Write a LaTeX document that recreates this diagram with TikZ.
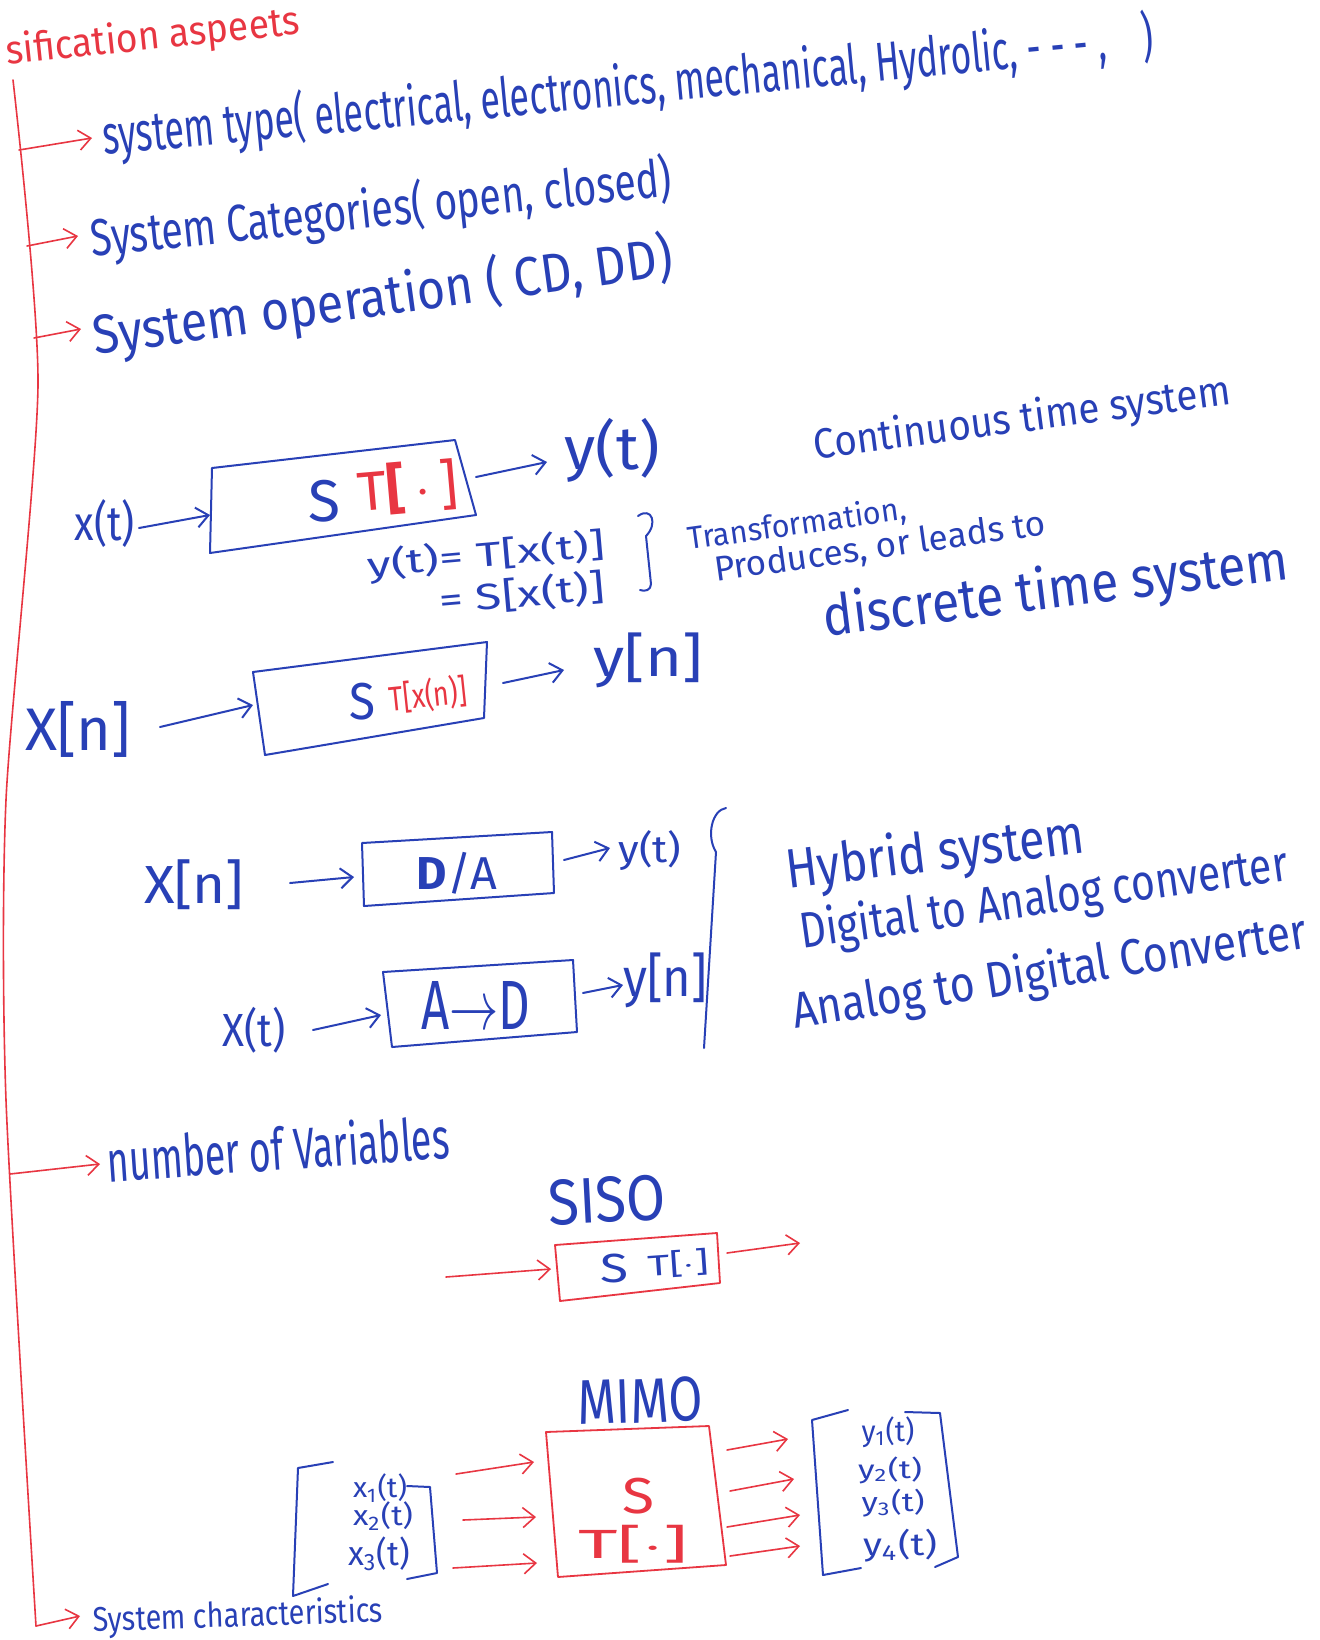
\documentclass[tikz,border=0pt]{standalone}
\usepackage{fontspec}
\setmainfont{Fira Sans}
\usetikzlibrary{arrows.meta}
\definecolor{inkblue}{RGB}{40,64,182}
\definecolor{inkred}{RGB}{232,54,66}
\newdimen\pxu \pxu=0.5pt
% set a text to a given width and total height (in picture units)
\newcommand{\fitwh}[3]{\resizebox*{#1\pxu}{#2\pxu}{#3}}
\begin{document}
\begin{tikzpicture}[x=0.5pt,y=-0.5pt,
  note/.style={inner sep=0pt, outer sep=0pt},
  bluetxt/.style={note, text=inkblue},
  redtxt/.style={note, text=inkred},
  barrow/.style={draw=inkblue, line width=1pt, line cap=round,
    -{Straight Barb[length=6pt,width=10pt,line width=1pt]}},
  rarrow/.style={draw=inkred, line width=0.8pt, line cap=round,
    -{Straight Barb[length=6pt,width=10pt,line width=0.8pt]}},
  bluebox/.style={draw=inkblue, line width=1pt, line join=round},
  redbox/.style={draw=inkred, line width=0.9pt, line join=round},
  bluepen/.style={draw=inkblue, line width=1pt, line cap=round, line join=round},
  redpen/.style={draw=inkred, line width=0.8pt, line cap=round, line join=round}]

\fill[white] (0,0) rectangle (1320,1640);
\useasboundingbox (0,0) rectangle (1320,1640);

% ---------- heading and main trunk ----------
\node[redtxt, rotate=6] (title) at (153,38) {\fitwh{295}{40}{sification aspeets}};

\draw[redpen] plot[smooth, tension=0.4] coordinates
  {(13,80) (38,385) (6,800) (6,1100) (36,1626)};

\coordinate (t1) at (19,150);  \coordinate (h1) at (92,138);
\coordinate (t2) at (27,246);  \coordinate (h2) at (78,236);
\coordinate (t3) at (34,338);  \coordinate (h3) at (81,329);
\coordinate (t4) at (10,1174); \coordinate (h4) at (100,1164);
\coordinate (t5) at (36,1626); \coordinate (h5) at (80,1616);
\draw[rarrow] (t1) -- (h1);
\draw[rarrow] (t2) -- (h2);
\draw[rarrow] (t3) -- (h3);
\draw[rarrow] (t4) -- (h4);
\draw[rarrow] (t5) -- (h5);

\node[bluetxt, rotate=5.4] (systype) at (628,88)
  {\fitwh{1055}{58}{system type( electrical, electronics, mechanical, Hydrolic, - - - ,\quad)}};
\node[bluetxt, rotate=6] (syscat) at (381,210)
  {\fitwh{584}{55}{System Categories( open, closed)}};
\node[bluetxt, rotate=7.8] (sysop) at (383,298)
  {\fitwh{585}{58}{System operation ( CD, DD)}};

% ---------- continuous time system ----------
\draw[bluebox] (212,468) -- (455,440) -- (476,515) -- (210,553) -- cycle;
\node[bluetxt] (xt1) at (105,524) {\fitwh{60}{48}{x(t)}};
\node[bluetxt] (s1) at (324,501) {\fitwh{32}{42}{S}};
\node[redtxt, rotate=5] (tr1) at (408,488) {\fitwh{100}{52}{T\textbf{[}\,$\cdot$\,]}};
\node[bluetxt] (yt1) at (612,450) {\fitwh{95}{64}{y(t)}};
\coordinate (b1in) at (210,515); \coordinate (x1e) at (139,528);
\coordinate (b1out) at (476,477); \coordinate (y1w) at (547,462);
\draw[barrow] (x1e) -- (b1in);
\draw[barrow] (b1out) -- (y1w);

\node[bluetxt, rotate=7.5] (cts) at (1022,420) {\fitwh{420}{42}{Continuous time system}};
\node[bluetxt, rotate=5] (eq1) at (486,556) {\fitwh{238}{36}{y(t)= T[x(t)]}};
\node[bluetxt, rotate=5] (eq2) at (522,594) {\fitwh{166}{36}{= S[x(t)]}};
\draw[bluepen] (638,516) .. controls (652,506) and (658,524) .. (646,536)
  -- (651,584) .. controls (651,590) and (645,592) .. (640,590);
\node[bluetxt, rotate=8] (trf) at (797,525) {\fitwh{220}{30}{Transformation,}};
\node[bluetxt, rotate=8] (prod) at (880,548) {\fitwh{334}{32}{Produces, or leads to}};

% ---------- discrete time system ----------
\node[bluetxt, rotate=7] (dts) at (1056,592) {\fitwh{468}{56}{discrete time system}};
\draw[bluebox] (253,672) -- (487,642) -- (484,718) -- (265,755) -- cycle;
\node[bluetxt] (xn1) at (78,729) {\fitwh{105}{56}{X[n]}};
\node[bluetxt] (s2) at (362,702) {\fitwh{26}{37}{S}};
\node[redtxt, rotate=6] (tr2) at (428,695) {\fitwh{78}{34}{T[x(n)]}};
\node[bluetxt] (yn1) at (648,660) {\fitwh{109}{55}{y[n]}};
\coordinate (x2e) at (160,727); \coordinate (b2in) at (253,705);
\coordinate (b2out) at (503,683); \coordinate (y2w) at (564,670);
\draw[barrow] (x2e) -- (b2in);
\draw[barrow] (b2out) -- (y2w);

% ---------- hybrid system ----------
\draw[bluebox] (362,843) -- (552,832) -- (554,893) -- (364,906) -- cycle;
\node[bluetxt] (xn2) at (194,885) {\fitwh{100}{50}{X[n]}};
\node[bluetxt] (da) at (457,873) {\fitwh{80}{42}{\textbf{D}/A}};
\node[bluetxt] (yt2) at (650,851) {\fitwh{63}{40}{y(t)}};
\coordinate (x3e) at (290,883); \coordinate (b3in) at (354,877);
\coordinate (b3out) at (564,860); \coordinate (y3w) at (610,848);
\draw[barrow] (x3e) -- (b3in);
\draw[barrow] (b3out) -- (y3w);

\draw[bluebox] (383,972) -- (573,960) -- (577,1032) -- (392,1047) -- cycle;
\node[bluetxt] (xt2) at (254,1030) {\fitwh{63}{46}{X(t)}};
\node[bluetxt] (ad) at (476,1005) {\fitwh{109}{48}{A$\rightarrow$D}};
\node[bluetxt] (yn2) at (665,980) {\fitwh{84}{55}{y[n]}};
\coordinate (x4e) at (313,1030); \coordinate (b4in) at (381,1015);
\coordinate (b4out) at (583,993); \coordinate (y4w) at (623,985);
\draw[barrow] (x4e) -- (b4in);
\draw[barrow] (b4out) -- (y4w);

\draw[bluepen] (726,808) .. controls (712,810) and (706,836) .. (716,852) -- (704,1048);

\node[bluetxt, rotate=7] (hyb) at (935,855) {\fitwh{300}{55}{Hybrid system}};
\node[bluetxt, rotate=8] (dac) at (1044,900) {\fitwh{492}{50}{Digital to Analog converter}};
\node[bluetxt, rotate=9] (adc) at (1050,974) {\fitwh{520}{50}{Analog to Digital Converter}};

% ---------- number of variables ----------
\node[bluetxt, rotate=4] (nvar) at (278,1148) {\fitwh{343}{46}{number of Variables}};

\node[bluetxt, rotate=3] (siso) at (607,1200) {\fitwh{118}{46}{SISO}};
\draw[redbox] (555,1245) -- (717,1233) -- (720,1283) -- (560,1301) -- cycle;
\node[bluetxt] (s3) at (614,1268) {\fitwh{28}{29}{S}};
\node[bluetxt, rotate=4] (tr3) at (678,1264) {\fitwh{61}{27}{T[$\cdot$]}};
\coordinate (u1) at (446,1277); \coordinate (b5in) at (551,1269);
\coordinate (b5out) at (727,1253); \coordinate (v1) at (800,1243);
\draw[rarrow] (u1) -- (b5in);
\draw[rarrow] (b5out) -- (v1);

\node[bluetxt, rotate=2] (mimo) at (640,1401) {\fitwh{125}{45}{MIMO}};
\draw[redbox] (546,1432) -- (709,1426) -- (726,1565) -- (558,1577) -- cycle;
\node[redtxt] (s4) at (638,1496) {\fitwh{32}{36}{S}};
\node[redtxt] (tr4) at (633,1544) {\fitwh{110}{38}{T[$\cdot$]}};

% input vector
\draw[bluepen] (333,1462) -- (298,1468) -- (293,1596) -- (328,1584);
\draw[bluepen] (407,1486) -- (430,1487) -- (437,1573) -- (407,1579);
\node[bluetxt] (xa) at (380,1488) {\fitwh{54}{28}{x\textsubscript{1}(t)}};
\node[bluetxt] (xb) at (383,1516) {\fitwh{60}{28}{x\textsubscript{2}(t)}};
\node[bluetxt] (xc) at (379,1554) {\fitwh{62}{34}{x\textsubscript{3}(t)}};

\coordinate (p1) at (456,1474); \coordinate (q1) at (534,1462);
\coordinate (p2) at (463,1520); \coordinate (q2) at (536,1517);
\coordinate (p3) at (453,1568); \coordinate (q3) at (537,1563);
\draw[rarrow] (p1) -- (q1);
\draw[rarrow] (p2) -- (q2);
\draw[rarrow] (p3) -- (q3);

% output vector
\coordinate (r1) at (727,1450); \coordinate (w1) at (788,1439);
\coordinate (r2) at (730,1491); \coordinate (w2) at (794,1479);
\coordinate (r3) at (727,1527); \coordinate (w3) at (800,1515);
\coordinate (r4) at (730,1556); \coordinate (w4) at (800,1546);
\draw[rarrow] (r1) -- (w1);
\draw[rarrow] (r2) -- (w2);
\draw[rarrow] (r3) -- (w3);
\draw[rarrow] (r4) -- (w4);

\draw[bluepen] (848,1410) -- (812,1420) -- (823,1575) -- (861,1568);
\draw[bluepen] (905,1412) -- (940,1413) -- (958,1557) -- (935,1567);
\node[bluetxt] (ya) at (888,1432) {\fitwh{53}{31}{y\textsubscript{1}(t)}};
\node[bluetxt] (yb) at (890,1470) {\fitwh{64}{27}{y\textsubscript{2}(t)}};
\node[bluetxt] (yc) at (893,1503) {\fitwh{63}{28}{y\textsubscript{3}(t)}};
\node[bluetxt] (yd) at (900,1546) {\fitwh{74}{33}{y\textsubscript{4}(t)}};

% ---------- system characteristics ----------
\node[bluetxt, rotate=2] (schar) at (238,1617) {\fitwh{290}{34}{System characteristics}};

\end{tikzpicture}
\end{document}
